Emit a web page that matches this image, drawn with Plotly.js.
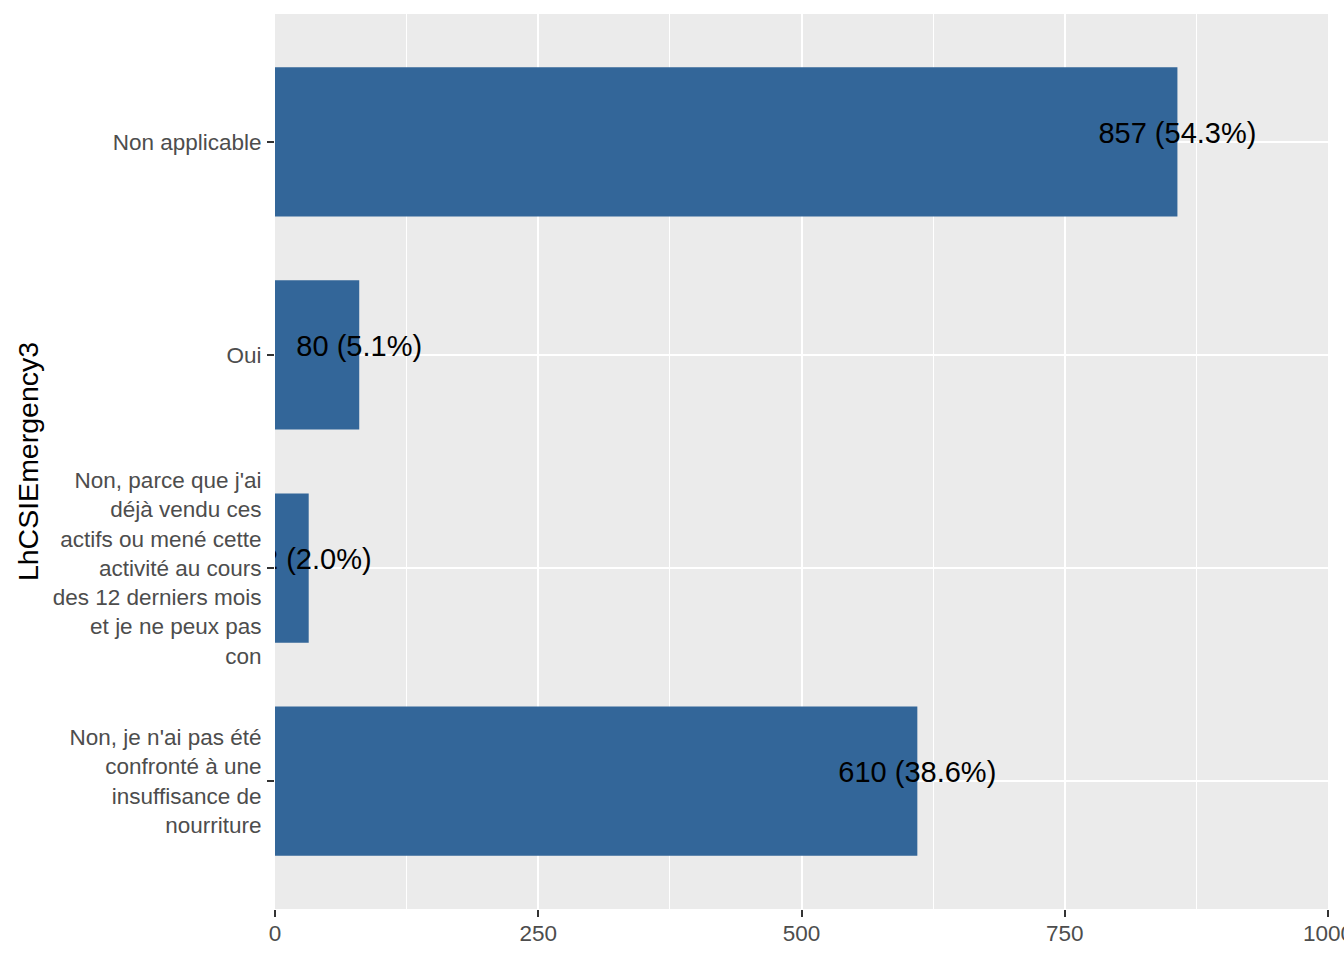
<!DOCTYPE html>
<html>
<head>
<meta charset="utf-8">
<script src="https://cdn.plot.ly/plotly-3.0.1.min.js"></script>
<style>html,body{margin:0;padding:0;background:#fff;}#chart{width:1344px;height:960px;}</style>
</head>
<body>
<div id="chart"></div>
<script>
// Categories (top to bottom) with wrapped labels
const categories = [
  "Non applicable",
  "Oui",
  "Non, parce que j'ai<br>déjà vendu ces<br>actifs ou mené cette<br>activité au cours<br>des 12 derniers mois<br>et je ne peux pas<br>con",
  "Non, je n'ai pas été<br>confronté à une<br>insuffisance de<br>nourriture"
];
const counts = [857, 80, 32, 610];
const percents = ["54.3%", "5.1%", "2.0%", "38.6%"];
const xTickVals = [0, 250, 500, 750, 1000];
const xTickText = ["0", "250", "500", "750", "1000"];
const xMinorVals = [125, 375, 625, 875];
const yTitle = "LhCSIEmergency3";

const labels = counts.map((c, i) => c + " (" + percents[i] + ")");
const catOrder = categories.slice().reverse();

const bars = {
  type: "bar",
  orientation: "h",
  x: counts,
  y: categories,
  width: 0.7,
  marker: {color: "#336699", line: {width: 0}},
  hoverinfo: "skip"
};
const text = {
  type: "scatter",
  mode: "text",
  x: counts,
  y: categories,
  yaxis: "y2",
  text: labels,
  textposition: "middle center",
  textfont: {family: "Liberation Sans, Arial, sans-serif", size: 29, color: "#000000"},
  cliponaxis: true,
  hoverinfo: "skip"
};

const tickFont = {family: "Liberation Sans, Arial, sans-serif", size: 22.5, color: "#4D4D4D"};
// label sits slightly above bar centre (as in ggplot output)
const labelLift = 0.03;

const layout = {
  width: 1344,
  height: 960,
  margin: {l: 275, r: 16, t: 14, b: 51},
  paper_bgcolor: "#ffffff",
  plot_bgcolor: "#EBEBEB",
  showlegend: false,
  font: {family: "Liberation Sans, Arial, sans-serif"},
  xaxis: {
    range: [0, 1000],
    tickvals: xTickVals,
    ticktext: xTickText,
    showgrid: true,
    gridcolor: "#ffffff",
    gridwidth: 2,
    zeroline: false,
    showline: false,
    ticks: "outside",
    ticklen: 7,
    tickwidth: 2,
    tickcolor: "#333333",
    tickfont: tickFont,
    ticklabeloverflow: "allow",
    ticklabelstandoff: -3,
    minor: {tickvals: xMinorVals, showgrid: true, gridcolor: "#ffffff", gridwidth: 1, ticks: ""},
    fixedrange: true
  },
  yaxis: {
    type: "category",
    categoryorder: "array",
    categoryarray: catOrder,
    range: [-0.6, 3.6],
    showgrid: true,
    gridcolor: "#ffffff",
    gridwidth: 2,
    zeroline: false,
    showline: false,
    ticks: "outside",
    ticklen: 7,
    tickwidth: 2,
    tickcolor: "#333333",
    tickfont: tickFont,
    ticklabelstandoff: 1,
    title: {text: yTitle, font: {family: "Liberation Sans, Arial, sans-serif", size: 28.5, color: "#000000"}, standoff: 5},
    fixedrange: true
  },
  yaxis2: {
    type: "category",
    categoryorder: "array",
    categoryarray: catOrder,
    range: [-0.6 - labelLift, 3.6 - labelLift],
    overlaying: "y",
    visible: false,
    showgrid: false,
    fixedrange: true
  }
};

Plotly.newPlot("chart", [bars, text], layout, {displayModeBar: false, staticPlot: true});
</script>
</body>
</html>
